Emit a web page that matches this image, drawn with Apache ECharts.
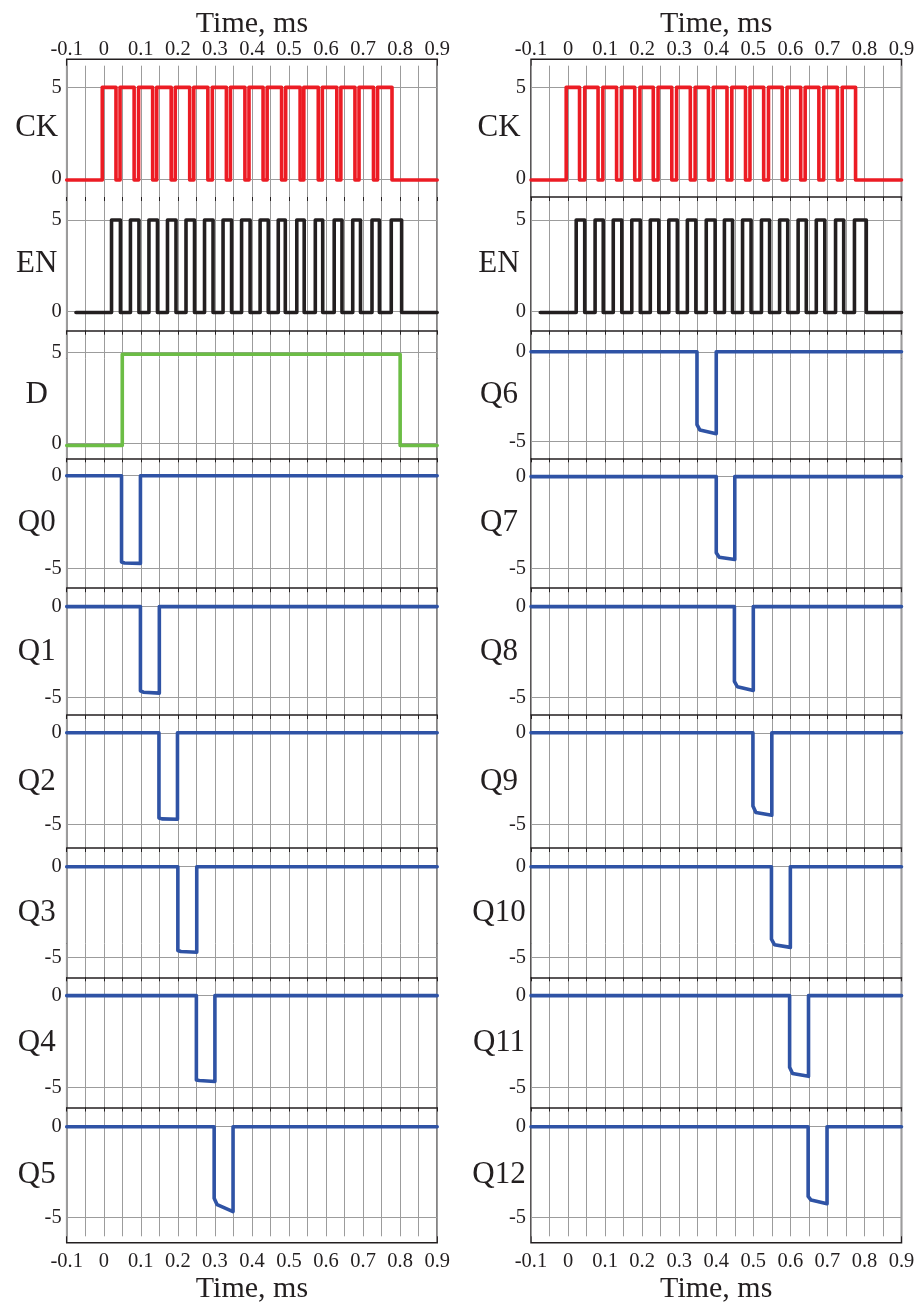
<!DOCTYPE html>
<html>
<head>
<meta charset="utf-8">
<script src="https://cdn.jsdelivr.net/npm/echarts@6/dist/echarts.min.js"></script>
<style>
html,body{margin:0;padding:0;background:#fff;}
#chart{width:921px;height:1307px;}
</style>
</head>
<body>
<div id="chart"></div>
<script>
// ---------------- DATA ----------------
const xTickLabels = [-0.1, 0, 0.1, 0.2, 0.3, 0.4, 0.5, 0.6, 0.7, 0.8, 0.9];
const axisTitle = 'Time, ms';
const leftNames = ['CK', 'EN', 'D', 'Q0', 'Q1', 'Q2', 'Q3', 'Q4', 'Q5'];
const rightNames = ['CK', 'EN', 'Q6', 'Q7', 'Q8', 'Q9', 'Q10', 'Q11', 'Q12'];

// clock CK (rise / fall times, ms), levels
const ckRiseL = [-0.004, 0.044, 0.094, 0.143, 0.193, 0.243, 0.293, 0.342, 0.392, 0.441, 0.491, 0.540, 0.590, 0.640, 0.689, 0.739];
const ckFallL = [0.033, 0.082, 0.132, 0.182, 0.232, 0.281, 0.331, 0.381, 0.430, 0.480, 0.530, 0.579, 0.629, 0.678, 0.728, 0.778];
const ckRiseR = [-0.005, 0.045, 0.094, 0.144, 0.194, 0.243, 0.293, 0.343, 0.392, 0.442, 0.491, 0.541, 0.591, 0.640, 0.690, 0.740];
const ckFallR = [0.031, 0.081, 0.131, 0.180, 0.230, 0.280, 0.330, 0.379, 0.429, 0.479, 0.528, 0.578, 0.628, 0.677, 0.727, 0.776];
const ckLevels = [-0.05, 5.0];

// enable EN
const enRiseL = [0.021, 0.072, 0.122, 0.172, 0.222, 0.272, 0.322, 0.372, 0.422, 0.471, 0.521, 0.571, 0.622, 0.672, 0.724, 0.776];
const enFallL = [0.045, 0.095, 0.145, 0.195, 0.245, 0.295, 0.345, 0.395, 0.444, 0.490, 0.541, 0.591, 0.643, 0.693, 0.744, 0.804];
const enRiseR = [0.022, 0.073, 0.122, 0.172, 0.222, 0.272, 0.322, 0.373, 0.422, 0.471, 0.522, 0.571, 0.621, 0.670, 0.722, 0.773];
const enFallR = [0.045, 0.095, 0.145, 0.195, 0.245, 0.295, 0.345, 0.397, 0.444, 0.494, 0.544, 0.593, 0.643, 0.693, 0.744, 0.805];
const enLevels = [-0.05, 5.0];
const enStart = -0.075;

// data D
const dRise = [0.050];
const dFall = [0.800];
const dLevels = [-0.12, 4.9];

// outputs Q0..Q12: drop time, return time, level at drop, level after knee, level before return
const qDrop   = [0.048, 0.099, 0.149, 0.200, 0.250, 0.298, 0.348, 0.400, 0.449, 0.499, 0.549, 0.598, 0.648];
const qReturn = [0.099, 0.150, 0.199, 0.251, 0.300, 0.349, 0.400, 0.450, 0.500, 0.550, 0.600, 0.649, 0.699];
const qLevelA = [-4.65, -4.62, -4.65, -4.62, -4.60, -3.95, -4.05, -4.15, -4.10, -4.00, -4.00, -3.90, -3.85];
const qLevelB = [-4.70, -4.70, -4.70, -4.68, -4.63, -4.30, -4.35, -4.40, -4.40, -4.35, -4.30, -4.25, -4.05];
const qLevelC = [-4.72, -4.75, -4.72, -4.72, -4.68, -4.68, -4.55, -4.52, -4.60, -4.50, -4.45, -4.40, -4.25];
const qIdle = 0.0;

// ---------------- LAYOUT ----------------
const X_MIN = -0.1, X_MAX = 0.9;
const colLeft = [66.7, 531];
const plotW = 370.5;
const panelTops = [59.3, 197, 330.7, 458.3, 588.2, 715, 848, 977.3, 1107.5];
const frameBottom = 1242.7;
const yRangesL = [[-0.98, 6.53], [-1.04, 6.25], [-0.82, 6.19], [-6.06, 0.94], [-5.95, 1.01], [-6.29, 0.97], [-6.1, 1.03], [-6.1, 1.0], [-6.4, 1.06]];
const yRangesR = [[-0.98, 6.53], [-1.04, 6.25], [-5.92, 1.17], [-6.09, 1.0], [-5.95, 1.01], [-6.29, 0.97], [-6.1, 1.03], [-6.1, 1.0], [-6.4, 1.06]];
const nameGaps = [30, 32];
const COLORS = {ck: '#ec1c24', en: '#231f20', d: '#6cbd45', q: '#2f53a5'};
const INK = '#231f20';
const GRID_GREY = '#9c9c9c';
const FONT = '"Liberation Serif", "DejaVu Serif", serif';

// ---------------- builders ----------------
function pulseTrain(rises, falls, levels, start, end) {
  const lo = levels[0], hi = levels[1];
  const pts = [[start, lo]];
  for (let i = 0; i < rises.length; i++) {
    pts.push([rises[i], lo], [rises[i], hi], [falls[i], hi], [falls[i], lo]);
  }
  pts.push([end, lo]);
  return pts;
}
function qPulse(i, start, end) {
  return [[start, qIdle], [qDrop[i], qIdle], [qDrop[i], qLevelA[i]], [qDrop[i] + 0.008, qLevelB[i]],
          [qReturn[i], qLevelC[i]], [qReturn[i], qIdle], [end, qIdle]];
}

const grids = [], xAxes = [], yAxes = [], series = [];

function panelData(c, p) {
  if (p === 0) return {d: pulseTrain(c ? ckRiseR : ckRiseL, c ? ckFallR : ckFallL, ckLevels, X_MIN, X_MAX), color: COLORS.ck, ticks: [0, 5]};
  if (p === 1) return {d: pulseTrain(c ? enRiseR : enRiseL, c ? enFallR : enFallL, enLevels, enStart, X_MAX), color: COLORS.en, ticks: [0, 5]};
  if (c === 0 && p === 2) return {d: pulseTrain(dRise, dFall, dLevels, X_MIN, X_MAX), color: COLORS.d, ticks: [0, 5]};
  const qi = c === 0 ? p - 3 : p + 4;
  return {d: qPulse(qi, X_MIN, X_MAX), color: COLORS.q, ticks: [-5, 0]};
}

[0, 1].forEach(c => {
  const names = c ? rightNames : leftNames;
  const yr = c ? yRangesR : yRangesL;
  // frame grid
  let g = grids.length;
  grids.push({left: colLeft[c], width: plotW, top: panelTops[0], height: frameBottom - panelTops[0],
              show: true, borderColor: INK, borderWidth: 1.5, backgroundColor: 'transparent', outerBoundsMode: 'none'});
  xAxes.push({gridIndex: g, type: 'value', min: X_MIN, max: X_MAX, show: false});
  yAxes.push({gridIndex: g, type: 'value', min: 0, max: 1, show: false});
  // vertical grid lines grid
  g = grids.length;
  grids.push({left: colLeft[c], width: plotW, top: panelTops[0] + 6.4, height: frameBottom - panelTops[0] - 12.8, outerBoundsMode: 'none'});
  xAxes.push({gridIndex: g, type: 'value', min: X_MIN, max: X_MAX, interval: 0.05,
              axisLine: {show: false}, axisTick: {show: false}, axisLabel: {show: false},
              splitLine: {show: true, lineStyle: {color: GRID_GREY, width: 1}}});
  yAxes.push({gridIndex: g, type: 'value', min: 0, max: 1, show: false});

  for (let p = 0; p < 9; p++) {
    const top = panelTops[p];
    const bottom = p < 8 ? panelTops[p + 1] : frameBottom;
    g = grids.length;
    grids.push({left: colLeft[c], width: plotW, top: top, height: bottom - top, outerBoundsMode: 'none'});
    const info = panelData(c, p);
    const hideTopLine = (p === 0) || (c === 0 && p === 1);
    const xa = {
      gridIndex: g, type: 'value', min: X_MIN, max: X_MAX, interval: 0.05, position: 'top',
      axisLine: {show: !hideTopLine, onZero: false, lineStyle: {color: INK, width: 1.5}},
      axisTick: {show: p > 0, inside: true, length: 4, lineStyle: {color: INK, width: 1}},
      axisLabel: {show: p === 0, customValues: xTickLabels, margin: -1, fontSize: 20.5, fontFamily: FONT, color: INK},
      splitLine: {show: false}
    };
    if (p === 0) {
      xa.name = axisTitle; xa.nameLocation = 'middle'; xa.nameGap = 20; xa.nameMoveOverlap = false;
      xa.nameTextStyle = {fontSize: 30, fontFamily: FONT, color: INK};
    }
    const xi = xAxes.length;
    xAxes.push(xa);
    if (p === 8) {
      xAxes.push({gridIndex: g, type: 'value', min: X_MIN, max: X_MAX, interval: 0.05, position: 'bottom',
                  axisLine: {show: false}, axisTick: {show: false}, splitLine: {show: false},
                  axisLabel: {show: true, customValues: xTickLabels, margin: 8, fontSize: 20.5, fontFamily: FONT, color: INK},
                  name: axisTitle, nameLocation: 'middle', nameGap: 31, nameMoveOverlap: false,
                  nameTextStyle: {fontSize: 30, fontFamily: FONT, color: INK}});
    }
    const yi = yAxes.length;
    yAxes.push({gridIndex: g, type: 'value', min: yr[p][0], max: yr[p][1], position: 'left',
                axisLine: {show: false},
                axisTick: {show: false, customValues: info.ticks},
                axisLabel: {show: true, customValues: info.ticks, margin: 5, fontSize: 20.5, fontFamily: FONT, color: INK},
                splitLine: {show: true, lineStyle: {color: GRID_GREY, width: 1}},
                name: names[p], nameLocation: 'middle', nameRotate: 0, nameGap: nameGaps[c], nameMoveOverlap: false,
                nameTextStyle: {fontSize: 31, fontFamily: FONT, color: INK, align: 'center', verticalAlign: 'middle'}});
    series.push({type: 'line', xAxisIndex: xi, yAxisIndex: yi, data: info.d, showSymbol: false, symbol: 'none',
                 lineStyle: {color: info.color, width: 3.6, join: 'round', cap: 'round'}, itemStyle: {color: info.color},
                 animation: false, silent: true, z: 5});
  }
});

const chart = echarts.init(document.getElementById('chart'), null, {renderer: 'canvas'});
chart.setOption({
  animation: false,
  backgroundColor: '#ffffff',
  grid: grids,
  xAxis: xAxes,
  yAxis: yAxes,
  series: series
});
</script>
</body>
</html>
